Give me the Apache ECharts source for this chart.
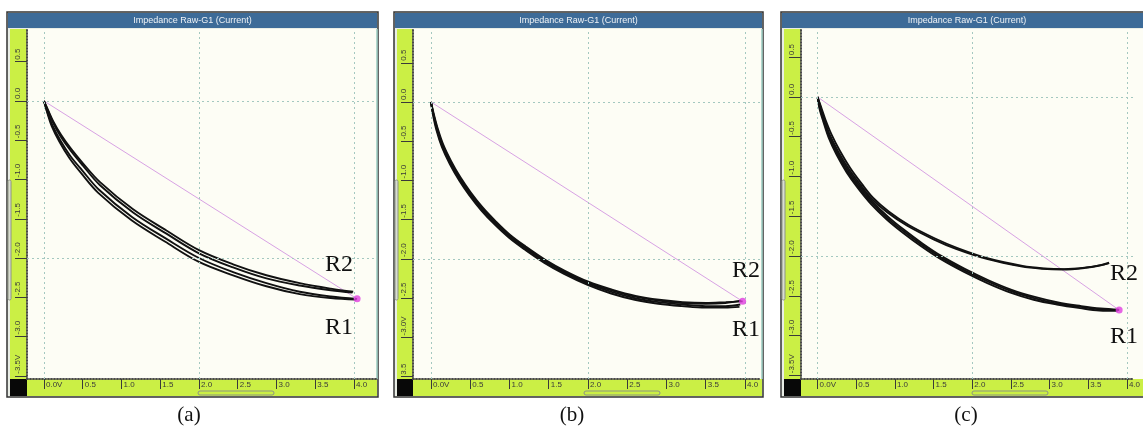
<!DOCTYPE html>
<html><head><meta charset="utf-8">
<script src="https://cdn.jsdelivr.net/npm/echarts@6/dist/echarts.min.js"></script>
<style>html,body{margin:0;padding:0;background:#fff}#c{width:1143px;height:426px}</style>
</head><body><div id="c"></div>
<script>
// ---------------- data ----------------
const panelTitle = 'Impedance Raw-G1 (Current)';
const captions = ['(a)', '(b)', '(c)'];
const xTickValues = [0, 0.5, 1, 1.5, 2, 2.5, 3, 3.5, 4];
const xTickLabels = ['0.0V', '0.5', '1.0', '1.5', '2.0', '2.5', '3.0', '3.5', '4.0'];
const yTickValues = [0.5, 0, -0.5, -1, -1.5, -2, -2.5, -3, -3.5];
const yTickLabelsA = ['0.5', '0.0', '-0.5', '-1.0', '-1.5', '-2.0', '-2.5', '-3.0', '-3.5V'];
const yTickLabelsB = ['0.5', '0.0', '-0.5', '-1.0', '-1.5', '-2.0', '-2.5', '-3.0V', '3.5'];
const yTickLabelsC = ['0.5', '0.0', '-0.5', '-1.0', '-1.5', '-2.0', '-2.5', '-3.0', '-3.5V'];
const gridLinesX = [0, 2, 4];
const gridLinesY = [0, -2];

// panel (a) traces
const aTrace1 = [[0,0],[0.05,-0.11],[0.12,-0.26],[0.22,-0.43],[0.35,-0.61],[0.5,-0.79],[0.72,-1.03],[1.15,-1.38],[1.58,-1.65],[2.0,-1.9],[2.44,-2.08],[2.87,-2.22],[3.3,-2.32],[3.7,-2.39],[3.99,-2.43]];
const aTrace2 = [[0,0],[0.05,-0.12],[0.12,-0.28],[0.22,-0.46],[0.35,-0.64],[0.5,-0.82],[0.72,-1.07],[1.15,-1.42],[1.58,-1.69],[2.0,-1.94],[2.44,-2.12],[2.87,-2.26],[3.3,-2.35],[3.7,-2.41],[3.98,-2.44]];
const aTrace3 = [[0,0],[0.04,-0.13],[0.11,-0.31],[0.21,-0.5],[0.34,-0.7],[0.49,-0.88],[0.71,-1.13],[1.14,-1.48],[1.57,-1.75],[2.0,-2.0],[2.44,-2.18],[2.87,-2.32],[3.3,-2.43],[3.7,-2.49],[4.04,-2.52]];
const aTrace4 = [[0,0],[0.04,-0.14],[0.1,-0.32],[0.2,-0.52],[0.33,-0.73],[0.48,-0.92],[0.7,-1.17],[1.13,-1.52],[1.56,-1.79],[2.0,-2.05],[2.44,-2.22],[2.87,-2.36],[3.3,-2.46],[3.7,-2.51],[4.03,-2.53]];
const aRefLine = [[0,0],[4.04,-2.52]];
const aEndPoint = [[4.04,-2.52]];

// panel (b) traces
const bTrace1 = [[0,0],[0.03,-0.15],[0.08,-0.34],[0.15,-0.55],[0.25,-0.76],[0.37,-0.97],[0.5,-1.16],[0.65,-1.35],[0.82,-1.53],[1.0,-1.7],[1.2,-1.85],[1.45,-2.02],[1.7,-2.16],[2.0,-2.3],[2.3,-2.4],[2.6,-2.48],[2.9,-2.53],[3.2,-2.56],[3.5,-2.57],[3.75,-2.56],[3.95,-2.53]];
const bTrace2 = [[0,0],[0.03,-0.155],[0.075,-0.35],[0.145,-0.565],[0.245,-0.775],[0.365,-0.985],[0.495,-1.175],[0.645,-1.365],[0.815,-1.545],[1.0,-1.715],[1.2,-1.865],[1.45,-2.035],[1.7,-2.175],[2.0,-2.315],[2.3,-2.42],[2.6,-2.5],[2.9,-2.55],[3.2,-2.58],[3.5,-2.6],[3.75,-2.6],[3.94,-2.58]];
const bTrace3 = [[0,0],[0.035,-0.15],[0.085,-0.335],[0.155,-0.54],[0.255,-0.75],[0.375,-0.96],[0.505,-1.15],[0.655,-1.34],[0.825,-1.52],[1.005,-1.69],[1.205,-1.84],[1.455,-2.01],[1.705,-2.15],[2.005,-2.29],[2.305,-2.39],[2.605,-2.47],[2.905,-2.52],[3.205,-2.55],[3.505,-2.56],[3.755,-2.55],[3.97,-2.54]];
const bTrace4 = [[0,0],[0.025,-0.16],[0.07,-0.36],[0.14,-0.575],[0.24,-0.79],[0.36,-1.0],[0.49,-1.19],[0.64,-1.38],[0.81,-1.56],[0.995,-1.73],[1.195,-1.88],[1.445,-2.05],[1.695,-2.19],[1.995,-2.33],[2.295,-2.44],[2.595,-2.52],[2.895,-2.57],[3.195,-2.6],[3.495,-2.62],[3.745,-2.62],[3.93,-2.61]];
const bRefLine = [[0,0],[3.97,-2.54]];
const bEndPoint = [[3.97,-2.54]];

// panel (c) traces
const cLow1 = [[0,0],[0.03,-0.14],[0.08,-0.3],[0.15,-0.5],[0.25,-0.71],[0.38,-0.93],[0.53,-1.13],[0.7,-1.33],[0.9,-1.52],[1.1,-1.68],[1.35,-1.86],[1.6,-2.02],[1.9,-2.18],[2.2,-2.32],[2.5,-2.44],[2.8,-2.53],[3.1,-2.6],[3.4,-2.64],[3.65,-2.67],[3.9,-2.68]];
const cLow2 = [[0,0],[0.025,-0.145],[0.075,-0.31],[0.145,-0.515],[0.245,-0.725],[0.375,-0.945],[0.525,-1.15],[0.695,-1.35],[0.895,-1.54],[1.095,-1.7],[1.345,-1.88],[1.595,-2.04],[1.895,-2.2],[2.195,-2.34],[2.495,-2.46],[2.795,-2.55],[3.095,-2.61],[3.395,-2.655],[3.645,-2.685],[3.88,-2.69]];
const cLow3 = [[0,0],[0.035,-0.135],[0.085,-0.295],[0.155,-0.49],[0.26,-0.7],[0.39,-0.915],[0.54,-1.115],[0.71,-1.315],[0.91,-1.505],[1.11,-1.665],[1.36,-1.845],[1.61,-2.005],[1.91,-2.165],[2.21,-2.305],[2.51,-2.425],[2.81,-2.515],[3.11,-2.585],[3.41,-2.63],[3.66,-2.66],[3.9,-2.675]];
const cUp1 = [[0,0],[0.04,-0.13],[0.09,-0.29],[0.16,-0.48],[0.27,-0.69],[0.4,-0.9],[0.55,-1.1],[0.7,-1.28],[0.9,-1.45],[1.16,-1.62],[1.5,-1.79],[1.79,-1.91],[2.2,-2.04],[2.63,-2.13],[2.9,-2.16],[3.17,-2.17],[3.46,-2.15],[3.65,-2.12],[3.77,-2.09]];
const cUp2 = [[0,0],[0.045,-0.125],[0.1,-0.28],[0.18,-0.47],[0.29,-0.68],[0.42,-0.89],[0.57,-1.09],[0.72,-1.27],[0.92,-1.44],[1.18,-1.61],[1.52,-1.78],[1.81,-1.9],[2.22,-2.035],[2.65,-2.125],[2.92,-2.155],[3.19,-2.165],[3.47,-2.145],[3.66,-2.115],[3.77,-2.085]];
const cRefLine = [[0,0],[3.90,-2.68]];
const cEndPoint = [[3.90,-2.68]];

// ---------------- layout ----------------
const T = 12, PT = 29, PB = 379, RB = 396, FB = 397;
const P = [
  {fl:7,   fr:378,  pl:27,  pr:376,  xmin:-0.219, xmax:4.284, ymin:-3.541, ymax:0.917, yl:yTickLabelsA,
   traces:[aTrace1,aTrace2,aTrace3,aTrace4], ref:aRefLine, end:aEndPoint, r2:[325,265], r1:[325,328], cap:189},
  {fl:394, fr:763,  pl:413, pr:761,  xmin:-0.229, xmax:4.204, ymin:-3.529, ymax:0.930, yl:yTickLabelsB,
   traces:[bTrace1,bTrace2,bTrace3,bTrace4], ref:bRefLine, end:bEndPoint, r2:[732,271], r1:[732,330], cap:572},
  {fl:781, fr:1153, pl:801, pr:1143, xmin:-0.214, xmax:4.088, ymin:-3.547, ymax:0.855, yl:yTickLabelsC,
   traces:[cLow1,cLow2,cLow3,cUp1,cUp2], ref:cRefLine, end:cEndPoint, r2:[1110,274], r1:[1110,337], cap:966}
];
const GREEN = '#cbef45';
const idxOf = (arr, v) => arr.findIndex(a => Math.abs(a - v) < 1e-6);

const grids = [], xAxes = [], yAxes = [], series = [], graphics = [];
P.forEach((p, i) => {
  grids.push({left:p.pl, top:PT, width:p.pr - p.pl, height:PB - PT, show:false});
  xAxes.push({
    gridIndex:i, type:'value', min:p.xmin, max:p.xmax, position:'bottom',
    axisLine:{show:true, onZero:false, lineStyle:{color:'#4a4a4a', width:2, type:[1,2]}},
    axisTick:{show:true, customValues:xTickValues, length:10, lineStyle:{color:'#3a3a3a', width:1}},
    axisLabel:{show:true, customValues:xTickValues, formatter:v => xTickLabels[idxOf(xTickValues, v)],
      align:'left', verticalAlign:'middle', margin:6, fontSize:8, color:'#3a3a3a',
      fontFamily:'Liberation Sans', padding:[0,0,0,2]},
    splitLine:{show:false}
  });
  yAxes.push({
    gridIndex:i, type:'value', min:p.ymin, max:p.ymax, position:'left',
    axisLine:{show:true, onZero:false, lineStyle:{color:'#4a4a4a', width:2, type:[1,2]}},
    axisTick:{show:true, customValues:yTickValues, length:12, lineStyle:{color:'#3a3a3a', width:1}},
    axisLabel:{show:true, customValues:yTickValues, formatter:v => p.yl[idxOf(yTickValues, v)],
      rotate:90, align:'left', verticalAlign:'middle', margin:9, fontSize:8, color:'#3a3a3a',
      fontFamily:'Liberation Sans', padding:[0,0,0,2]},
    splitLine:{show:false}
  });
  series.push({
    type:'line', xAxisIndex:i, yAxisIndex:i, data:p.ref, showSymbol:false, symbol:'none', z:2,
    lineStyle:{color:'#d8a2e4', width:1},
    markLine:{silent:true, symbol:['none','none'], label:{show:false}, animation:false,
      lineStyle:{color:'#a4c8c0', type:[2,3], width:1},
      data: gridLinesX.map(v => ({xAxis:v})).concat(gridLinesY.map(v => ({yAxis:v})))}
  });
  p.traces.forEach(t => series.push({
    type:'line', xAxisIndex:i, yAxisIndex:i, data:t, showSymbol:false, symbol:'none', smooth:0.35, z:3,
    lineStyle:{color:'#111111', width:1.9}
  }));
  series.push({type:'scatter', xAxisIndex:i, yAxisIndex:i, data:p.end, symbol:'circle', symbolSize:7, z:5,
    itemStyle:{color:'#e03de0'}});

  // decorations
  graphics.push(
    {type:'rect', z:-30, shape:{x:p.fl, y:T, width:p.fr - p.fl, height:FB - T}, style:{fill:'#e9ede6', stroke:'#333', lineWidth:1.5}},
    {type:'rect', z:-29, shape:{x:p.fl + 1, y:T + 1, width:p.fr - p.fl - 2, height:15}, style:{fill:'#3d6b98'}},
    {type:'rect', z:-29, shape:{x:p.pl, y:PT, width:p.pr - p.pl, height:PB - PT}, style:{fill:'#fdfdf5'}},
    {type:'rect', z:-29, shape:{x:p.fl + 3, y:PT, width:p.pl - p.fl - 3, height:PB - PT}, style:{fill:GREEN}},
    {type:'rect', z:-29, shape:{x:p.pl, y:PB, width:p.fr - p.pl - 1, height:RB - PB}, style:{fill:GREEN}},
    {type:'rect', z:-29, shape:{x:p.fl + 3, y:PB, width:p.pl - p.fl - 3, height:RB - PB}, style:{fill:'#080808'}},
    {type:'line', z:-28, shape:{x1:p.fr - 1, y1:PT, x2:p.fr - 1, y2:PB}, style:{stroke:'#9fd0c6', lineWidth:1.5}},
    {type:'rect', z:20, shape:{x:p.pl + 171, y:391, width:76, height:4, r:2}, style:{fill:'rgba(0,0,0,0)', stroke:'#8d9484', lineWidth:1}},
    {type:'rect', z:20, shape:{x:p.fl + 1, y:180, width:3, height:120, r:1.5}, style:{fill:'#d9ddd2', stroke:'#8d9484', lineWidth:1}},
    {type:'text', z:30, x:(p.fl + p.fr) / 2, y:21, style:{text:panelTitle, fill:'#eef2f6', fontSize:9, fontFamily:'Liberation Sans', align:'center', verticalAlign:'middle'}},
    {type:'text', z:30, x:p.r2[0], y:p.r2[1], style:{text:'R2', fill:'#111', fontSize:24, fontFamily:'Liberation Serif', align:'left', verticalAlign:'middle'}},
    {type:'text', z:30, x:p.r1[0], y:p.r1[1], style:{text:'R1', fill:'#111', fontSize:24, fontFamily:'Liberation Serif', align:'left', verticalAlign:'middle'}},
    {type:'text', z:30, x:p.cap, y:415, style:{text:captions[i], fill:'#111', fontSize:21, fontFamily:'Liberation Serif', align:'center', verticalAlign:'middle'}}
  );
});

const chart = echarts.init(document.getElementById('c'), null, {renderer:'canvas'});
chart.setOption({
  animation:false,
  backgroundColor:'#ffffff',
  grid:grids, xAxis:xAxes, yAxis:yAxes, series:series, graphic:graphics
});
</script></body></html>
